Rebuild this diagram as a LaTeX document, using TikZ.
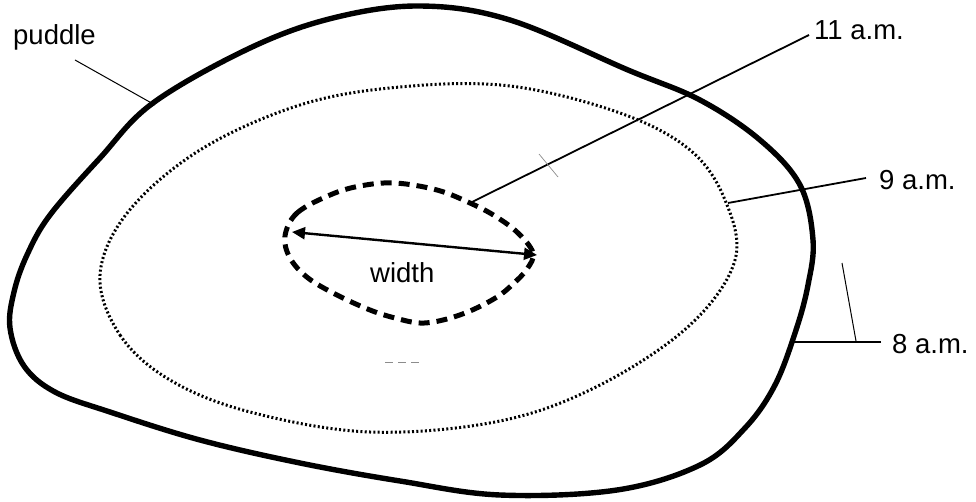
\documentclass[tikz,border=0pt]{standalone}
\usepackage{fontspec}
\setmainfont{Liberation Sans}
\usetikzlibrary{arrows.meta}
\begin{document}
\begin{tikzpicture}[x=1pt,y=-1pt,
  outline/.style={line width=5.4pt, line join=round},
  dotline/.style={line width=3pt, dash pattern=on 2pt off 2.3pt},
  dashline/.style={line width=5pt, dash pattern=on 11pt off 7pt},
  leader/.style={line width=1.8pt},
  thinleader/.style={line width=1pt},
  lbl/.style={inner sep=0pt, font=\fontsize{27.5}{32}\selectfont},
  speck/.style={line width=0.7pt, black!45}]
\useasboundingbox (0,0) rectangle (976,502);
\fill[white] (0,0) rectangle (976,502);

% outer puddle (8 a.m.)
\draw[outline] plot[smooth cycle, tension=0.6] coordinates {
 (333,18) (420,6) (510,20) (628,70) (700,100) (760,140) (800,185)
 (813,240) (808,285) (796,330) (775,385) (745,428) (700,465) (617,490)
 (500,495) (400,481) (300,463) (200,440) (110,412) (55,392) (24,366)
 (10,328) (14,292) (27,255) (50,215) (100,158) (153,103) (250,48)};

% 9 a.m. outline (dotted)
\draw[dotline] plot[smooth cycle, tension=0.6] coordinates {
 (100,275) (120,335) (170,380) (250,412) (370,432) (500,421) (600,385)
 (690,325) (735,260) (725,200) (690,150) (620,113) (510,86) (400,87)
 (300,105) (200,150) (128,212)};

% 11 a.m. outline (dashed)
\draw[dashline] plot[smooth cycle, tension=0.6] coordinates {
 (285,236) (297,213) (330,195) (360,186) (395,183) (437,190)
 (470,203) (495,216) (518,233) (533,253) (527,269) (513,284) (497,297)
 (470,311) (443,320) (420,323) (395,318) (370,310) (337,295) (308,278)
 (290,258)};

% width arrow
\coordinate (wl) at (292,232);
\coordinate (wr) at (537,255);
\draw[line width=2.4pt, {Triangle[length=13pt,width=12pt]}-{Triangle[length=13pt,width=12pt]}] (wl) -- (wr);
\node[lbl, anchor=base west] (twidth) at (370,283) {width};

% labels
\node[lbl, anchor=base west] (tpuddle) at (13,45) {puddle};
\node[lbl, anchor=base west] (t11) at (814,40) {11 a.m.};
\node[lbl, anchor=base west] (t9) at (879,190) {9 a.m.};
\node[lbl, anchor=base west] (t8) at (892,353) {8 a.m.};

% leader end points
\coordinate (lp1) at (75,60);   \coordinate (lp2) at (155,105);
\coordinate (l11a) at (809,35); \coordinate (l11b) at (472,202);
\coordinate (l9a) at (866,178); \coordinate (l9b) at (728,203);
\coordinate (l8a) at (881,342); \coordinate (l8b) at (793,342);
\coordinate (l8c) at (842,263); \coordinate (l8d) at (856,341);

\draw[thinleader] (lp1) -- (lp2);
\draw[leader] (l11a) -- (l11b);
\draw[leader] (l9a) -- (l9b);
\draw[leader] (l8a) -- (l8b);
\draw[thinleader] (l8c) -- (l8d);

% small scan marks
\coordinate (s1) at (539,154); \coordinate (s2) at (558,177);
\draw[speck] (s1) -- (s2);
\coordinate (s3) at (385,362); \coordinate (s4) at (422,362);
\draw[speck, dash pattern=on 8pt off 5pt] (s3) -- (s4);
\end{tikzpicture}
\end{document}
